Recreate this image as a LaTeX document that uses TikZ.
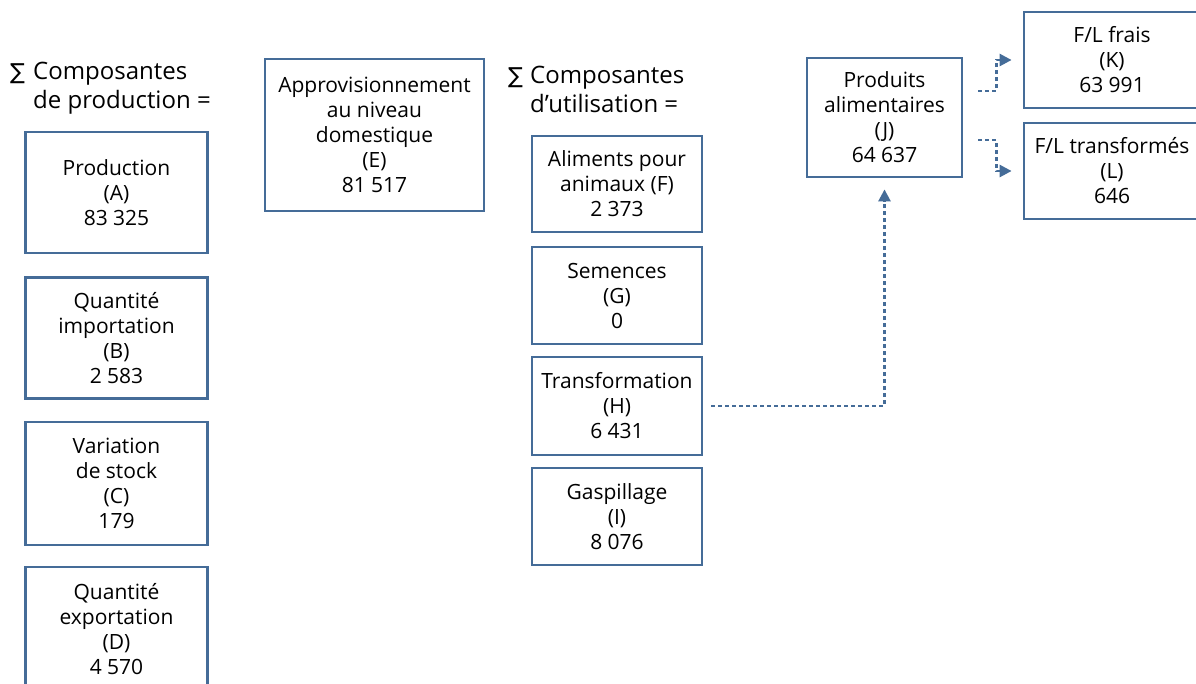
\documentclass[tikz,border=0pt]{standalone}
\usepackage{fontspec}
\setmainfont{Open Sans}
\newfontfamily\symfnt{DejaVu Sans}
\usetikzlibrary{arrows.meta}
\definecolor{boxblue}{RGB}{69,108,152}
\newcommand{\sgm}{{\symfnt\fontsize{22pt}{29pt}\selectfont ∑}}
\begin{document}
\begin{tikzpicture}[x=1pt,y=-1pt,
  box/.style={draw=boxblue, line width=2.8pt, rectangle, align=center,
    inner sep=2pt, font=\fontsize{21pt}{25pt}\selectfont},
  head/.style={align=left, inner sep=0pt, anchor=west,
    font=\fontsize{24pt}{29pt}\selectfont},
  conn/.style={draw=boxblue, line width=2.6pt, dash pattern=on 4pt off 3pt,
    -{Triangle[length=12pt,width=12pt]}}
]
\useasboundingbox (0,0) rectangle (1196,683);

\node[head] (h1) at (10,88) {\makebox[23pt][l]{\sgm}Composantes\\\hspace*{23pt}de production =};
\node[head] (h2) at (508,89) {\makebox[22pt][l]{\sgm}Composantes\\\hspace*{22pt}d’utilisation =};

\node[box, minimum width=182pt, minimum height=121pt] (A) at (116.5,192.5) {Production\\(A)\\83 325};
\node[box, minimum width=182pt, minimum height=121pt] (B) at (116.5,338) {Quantité\\importation\\(B)\\2 583};
\node[box, minimum width=182pt, minimum height=123pt] (C) at (116.5,483.5) {Variation\\de stock\\(C)\\179};
\node[box, minimum width=182pt, minimum height=124pt] (D) at (116.5,629) {Quantité\\exportation\\(D)\\4 570};

\node[box, minimum width=219pt, minimum height=152pt] (E) at (374.5,135) {Approvisionnement\\au niveau\\domestique\\(E)\\81 517};

\node[box, minimum width=170pt, minimum height=96pt] (F) at (617,184) {Aliments pour\\animaux (F)\\2 373};
\node[box, minimum width=170pt, minimum height=97pt] (G) at (617,295.5) {Semences\\(G)\\0};
\node[box, minimum width=170pt, minimum height=98pt] (H) at (617,406) {Transformation\\(H)\\6 431};
\node[box, minimum width=170pt, minimum height=97pt] (I) at (617,516.5) {Gaspillage\\(I)\\8 076};

\node[box, minimum width=155pt, minimum height=119pt] (J) at (884.5,117.5) {Produits\\alimentaires\\(J)\\64 637};
\node[box, minimum width=176pt, minimum height=96pt] (K) at (1112,60) {F/L frais\\(K)\\63 991};
\node[box, minimum width=176pt, minimum height=96pt] (L) at (1112,171) {F/L transformés\\(L)\\646};

\draw[conn, shorten <=8pt, shorten >=11pt] (H.east) -| (J.south);
\draw[conn, shorten <=15pt, shorten >=11pt] ([yshift=26.5pt]J.east) -- ++(33,0) |- (K.west);
\draw[conn, shorten <=15pt, shorten >=11pt] ([yshift=-22.5pt]J.east) -- ++(33,0) |- (L.west);
\end{tikzpicture}
\end{document}
